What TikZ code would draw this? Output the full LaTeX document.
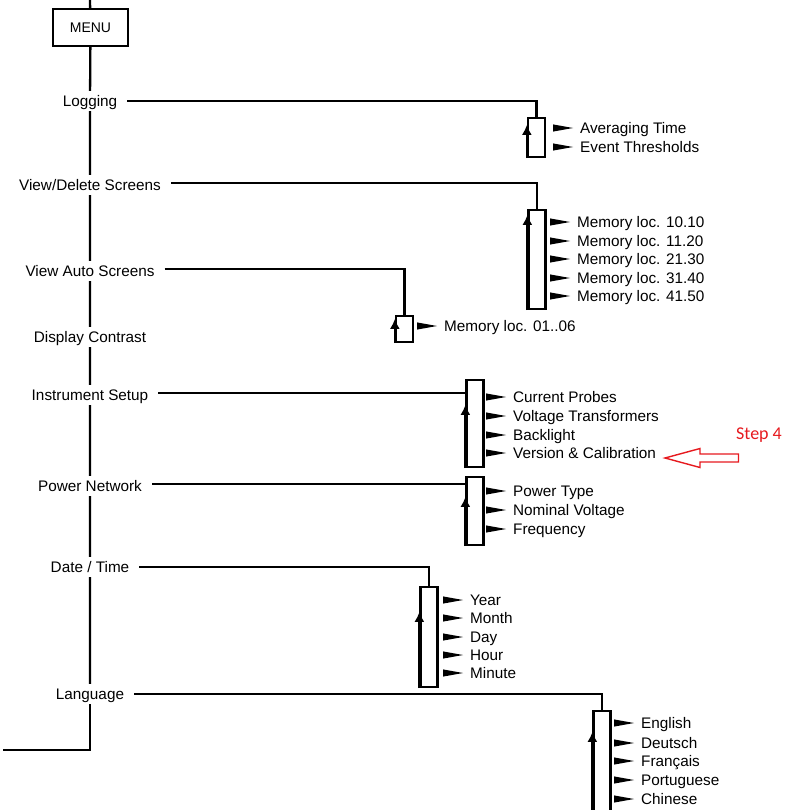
\documentclass[tikz,border=0pt]{standalone}
\usepackage{fontspec}
\setmainfont{Liberation Sans}
\newfontfamily\stepfont{Carlito}
\usetikzlibrary{arrows.meta}
\definecolor{stepred}{RGB}{230,25,30}
\newcommand{\entry}[4]{%
  \node[entry] (#1) at (#2,#3) {#4};
  \fill ([xshift=-6pt]#1.west) -- ++(-20,-3.6) -- ++(0,7.2) -- cycle;}

\begin{document}
\begin{tikzpicture}[x=1pt, y=-1pt, line width=2.3pt,
  menubox/.style={draw, line width=1.2pt, minimum width=75pt, minimum height=37pt, font=\fontsize{14}{16}\selectfont},
  topic/.style={fill=white, inner xsep=9pt, inner ysep=3.5pt, text height=11pt, text depth=0pt, font=\fontsize{15.3}{18}\selectfont},
  entry/.style={anchor=west, inner sep=0pt, text height=11pt, text depth=0pt, font=\fontsize{15.3}{18}\selectfont},
  selbox/.style={draw, minimum width=17pt, inner sep=0pt},
  uparrow/.style={-{Latex[length=10pt,width=10pt]}}]
\useasboundingbox (0,0) rectangle (788,810);

% main menu column
\coordinate (top) at (90,0);
\node[menubox] (menu) at (90.5,27.5) {MENU};
\node[topic] (lg) at (90,101) {Logging};
\node[topic] (vd) at (90,185) {View/Delete Screens};
\node[topic] (va) at (90,271) {View Auto Screens};
\node[topic] (dc) at (90,337) {Display Contrast};
\node[topic] (is) at (90,395) {Instrument Setup};
\node[topic] (pn) at (90,486) {Power Network};
\node[topic] (dt) at (90,567) {Date / Time};
\node[topic] (la) at (90,694) {Language};
\coordinate (corner) at (90,750);
\coordinate (exit) at (3,750);
\draw (top) -- (menu);
\draw (menu) -- (lg) -- (vd) -- (va) -- (dc) -- (is) -- (pn) -- (dt) -- (la);
\draw (la) -- (corner) -- (exit);

% selection boxes
\node[selbox, minimum height=39pt] (b1) at (536.5,137.5) {};
\node[selbox, minimum height=99pt] (b2) at (537,259.5) {};
\node[selbox, minimum height=26pt] (b3) at (404.5,329) {};
\node[selbox, minimum height=87pt] (b4) at (475,423.5) {};
\node[selbox, minimum height=68pt] (b5) at (475,511) {};
\node[selbox, minimum height=100pt] (b6) at (429,637) {};
\node[selbox, minimum height=100pt] (b7) at (602,761) {};
\draw[uparrow] (b1.south west) -- ([yshift=-8pt]b1.north west);
\draw[uparrow] (b2.south west) -- ([yshift=-6pt]b2.north west);
\draw[uparrow] (b3.south west) -- ([yshift=-4pt]b3.north west);
\draw[uparrow] (b4.south west) -- ([yshift=-26pt]b4.north west);
\draw[uparrow] (b5.south west) -- ([yshift=-21pt]b5.north west);
\draw[uparrow] (b6.south west) -- ([yshift=-26pt]b6.north west);
\draw[uparrow] (b7.south west) -- ([yshift=-22pt]b7.north west);

% feed lines
\draw (lg.east) -- (lg.east -| b1.north) -- (b1.north);
\draw ([yshift=2pt]vd.east) -- ([yshift=2pt]vd.east -| b2.north) -- (b2.north);
\draw ([yshift=2pt]va.east) -- ([yshift=2pt]va.east -| b3.north) -- (b3.north);
\draw ([yshift=2pt]is.east) -- ([yshift=2pt]is.east -| b4.west);
\draw ([yshift=2pt]pn.east) -- ([yshift=2pt]pn.east -| b5.west);
\draw (dt.east) -- (dt.east -| b6.north) -- (b6.north);
\draw (la.east) -- (la.east -| b7.north) -- (b7.north);

% entries
\entry{at}{579}{128}{Averaging Time}
\entry{et}{579}{147}{Event Thresholds}
\entry{m1}{576}{222}{Memory loc. 10.10}
\entry{m2}{576}{241}{Memory loc. 11.20}
\entry{m3}{576}{259}{Memory loc. 21.30}
\entry{m4}{576}{278}{Memory loc. 31.40}
\entry{m5}{576}{296}{Memory loc. 41.50}
\entry{m0}{443}{326}{Memory loc. 01..06}
\entry{cp}{512}{397}{Current Probes}
\entry{vt}{512}{416}{Voltage Transformers}
\entry{bl}{512}{435}{Backlight}
\entry{vc}{512}{453}{Version \& Calibration}
\entry{pt}{512}{491}{Power Type}
\entry{nv}{512}{510}{Nominal Voltage}
\entry{fq}{512}{529}{Frequency}
\entry{yr}{469}{600}{Year}
\entry{mo}{469}{618}{Month}
\entry{dy}{469}{637}{Day}
\entry{hr}{469}{655}{Hour}
\entry{mi}{469}{673}{Minute}
\entry{en}{640}{723}{English}
\entry{de}{640}{743}{Deutsch}
\entry{fr}{640}{761}{Français}
\entry{po}{640}{780}{Portuguese}
\entry{cn}{640}{799}{Chinese}

% step marker
\node[text=stepred, inner sep=0pt, font=\stepfont\fontsize{18}{20}\selectfont] (step) at (759,435) {Step 4};
\draw[stepred, line width=1.4pt] (665,458) -- (700,448.5) -- (700,454) -- (738.5,454) -- (738.5,462) -- (700,462) -- (700,467.5) -- cycle;
\end{tikzpicture}
\end{document}
